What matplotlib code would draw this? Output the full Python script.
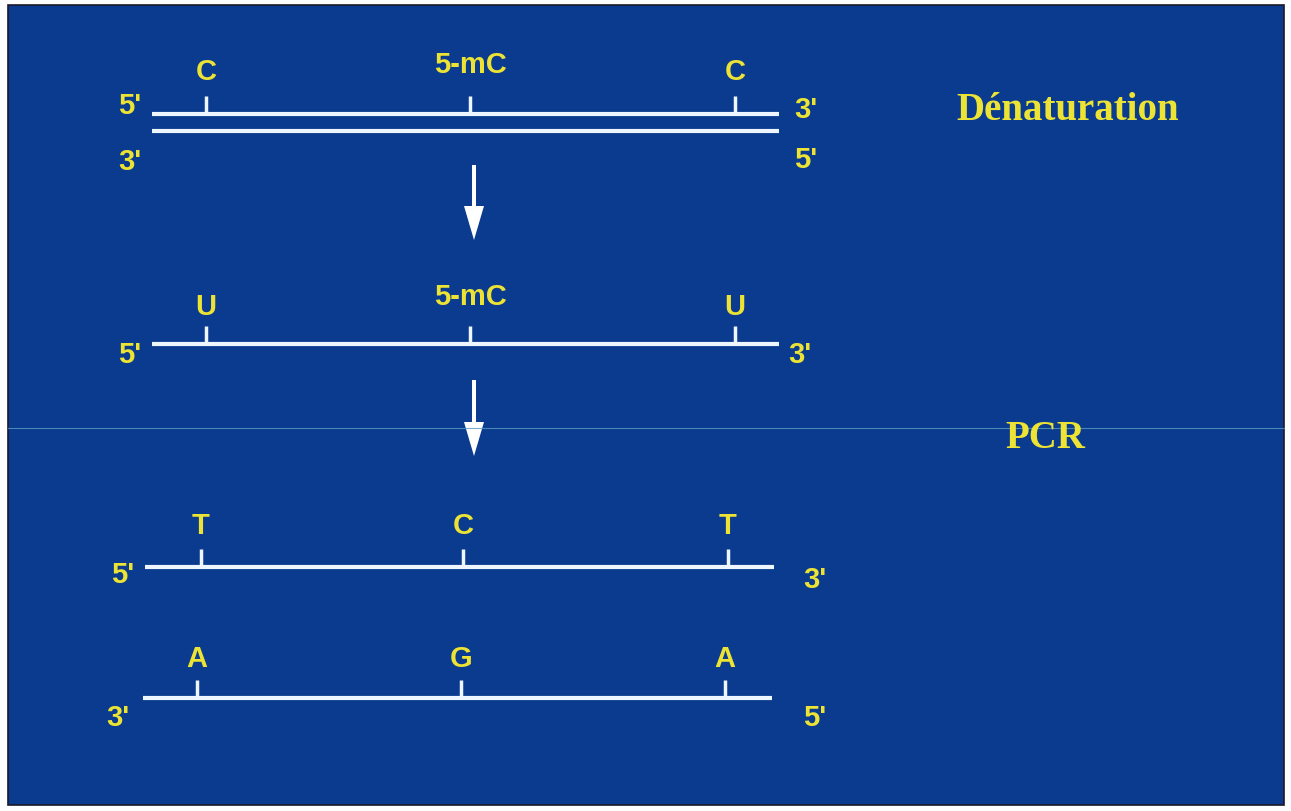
import matplotlib.pyplot as plt

# strand data: (y, x_start, x_end, left label, right label, tick x, base labels)
strand_y = [114, 131, 344, 567, 698]
strand_x0 = [152, 152, 152, 145, 143]
strand_x1 = [779, 779, 779, 774, 772]
left_labels = ["5'", "3'", "5'", "5'", "3'"]
right_labels = ["3'", "5'", "3'", "3'", "5'"]
left_label_pos = [(130, 106), (130, 162), (130, 355), (123, 575), (118, 718)]
right_label_pos = [(806, 110), (806, 160), (800, 355), (815, 580), (815, 718)]
tick_x = [[206, 470, 735], [], [206, 470, 735], [201, 463, 728], [197, 461, 725]]
bases = [["C", "5-mC", "C"], [], ["U", "5-mC", "U"], ["T", "C", "T"], ["A", "G", "A"]]
base_y = [[72, 65, 72], [], [307, 297, 307], [526, 526, 526], [659, 659, 659]]

arrow_x = [474, 474]
arrow_y = [(165, 240), (380, 456)]

steps = ["Dénaturation", "PCR"]
step_pos = [(1068, 110), (1045, 438)]

bg = "#0a3b8e"
yellow = "#ece334"
strand_col = "#eef6ff"

fig = plt.figure(figsize=(12.91, 8.11), dpi=100)
fig.patch.set_facecolor("white")
ax = fig.add_axes([0, 0, 1, 1])
ax.set_xlim(0, 1291)
ax.set_ylim(811, 0)
ax.axis("off")

ax.add_patch(plt.Rectangle((8, 5), 1276, 800, facecolor=bg, edgecolor="#1a1a2a", lw=1.2))
# faint scan line
ax.plot([8, 1284], [428, 428], color="#5a9ac0", lw=0.8, alpha=0.8)

lbl = dict(color=yellow, fontsize=21, fontweight="bold", family="Liberation Sans",
           ha="center", va="center")

for i, y in enumerate(strand_y):
    ax.plot([strand_x0[i], strand_x1[i]], [y, y], color=strand_col, lw=3, solid_capstyle="butt")
    for tx in tick_x[i]:
        ax.plot([tx, tx], [y - 18, y], color=strand_col, lw=2.5, solid_capstyle="butt")
    for tx, b, by in zip(tick_x[i], bases[i], base_y[i]):
        ax.text(tx, by, b, **lbl)
    ax.text(*left_label_pos[i], left_labels[i], **lbl)
    ax.text(*right_label_pos[i], right_labels[i], **lbl)

for ax_x, (y0, y1) in zip(arrow_x, arrow_y):
    ax.arrow(ax_x, y0, 0, y1 - y0, width=4, head_width=20, head_length=34,
             length_includes_head=True, color="white", lw=0)

for s, (sx, sy) in zip(steps, step_pos):
    ax.text(sx, sy, s, color=yellow, fontsize=28, fontweight="bold",
            family="Liberation Serif", ha="center", va="center")

fig.savefig("out.png", dpi=100, facecolor=fig.get_facecolor())
